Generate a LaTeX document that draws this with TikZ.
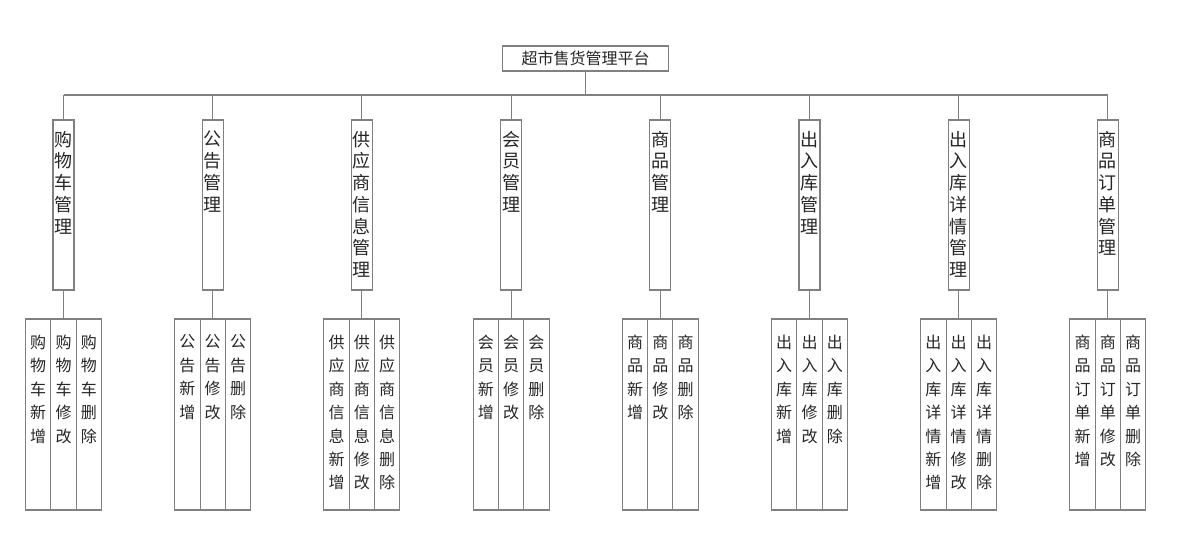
\documentclass[tikz,border=0pt]{standalone}
\usepackage{fontspec}
\newfontfamily\cjk{Noto Sans CJK SC}
\begin{document}
\begin{tikzpicture}[x=0.75pt,y=-0.75pt,
  line/.style={draw=black!50, line width=0.8pt},
  box/.style={draw=black!50, line width=0.8pt, fill=white, inner sep=0pt},
  vtxt/.style={font=\cjk\fontsize{13.5}{16.3}\selectfont, align=center, inner sep=0pt, anchor=north, text=black!85},
  stxt/.style={font=\cjk\fontsize{12}{17.6}\selectfont, align=center, inner sep=0pt, anchor=north, text=black!85}
]
\useasboundingbox (0,0) rectangle (1181,546);
\node[box, minimum width=125pt, minimum height=18.75pt, text=black!85, font=\cjk\fontsize{12}{14}\selectfont] (root) at (585.5,58.5) {超市售货管理平台};
\coordinate (bus) at (585.5,95);
\draw[line] (root.south) -- (bus);
\foreach \i/\p in {1/{购\\物\\车}, 2/{公\\告}, 3/{供\\应\\商\\信\\息}, 4/{会\\员}, 5/{商\\品}, 6/{出\\入\\库}, 7/{出\\入\\库\\详\\情}, 8/{商\\品\\订\\单}}{
  \pgfmathsetmacro\cx{63.5+(\i-1)*149.2}
  \node[box, minimum width=15.75pt, minimum height=127.5pt] (m\i) at (\cx,205) {};
  \node[vtxt] (mt\i) at ([yshift=-8.5pt]m\i.north) {\p\\管\\理};
  \node[box, minimum width=19pt, minimum height=143.25pt] (b\i a) at (\cx-25.3,414.5) {};
  \node[box, minimum width=19pt, minimum height=143.25pt] (b\i b) at (\cx,414.5) {};
  \node[box, minimum width=19pt, minimum height=143.25pt] (b\i c) at (\cx+25.3,414.5) {};
  \node[stxt] (t\i a) at ([yshift=-12pt]b\i a.north) {\p\\新\\增};
  \node[stxt] (t\i b) at ([yshift=-12pt]b\i b.north) {\p\\修\\改};
  \node[stxt] (t\i c) at ([yshift=-12pt]b\i c.north) {\p\\删\\除};
  \draw[line] (m\i.north) -- (m\i.north |- bus);
  \draw[line] (m\i.south) -- (b\i b.north);
}
\draw[line] (m1.north |- bus) -- (m8.north |- bus);
\end{tikzpicture}
\end{document}
